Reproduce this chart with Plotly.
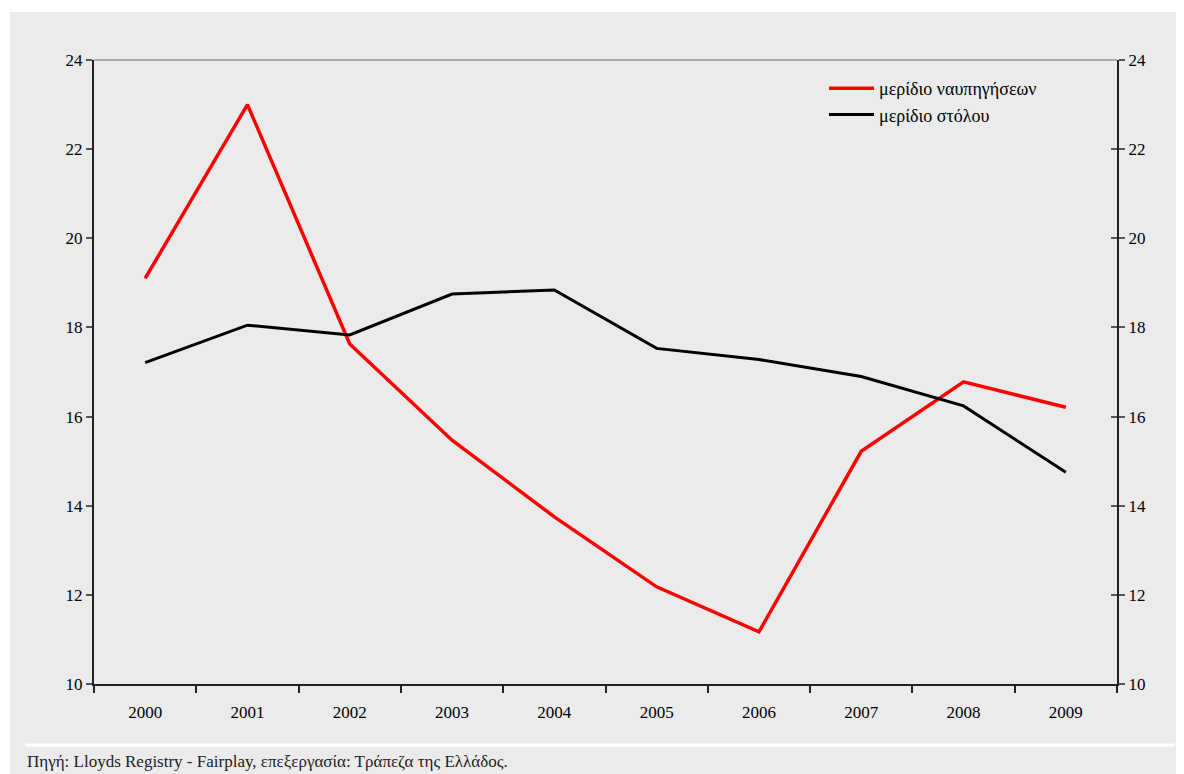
import plotly.graph_objects as go

years = ["2000", "2001", "2002", "2003", "2004", "2005", "2006", "2007", "2008", "2009"]
shipbuilding_share = [19.1, 23.0, 17.63, 15.47, 13.75, 12.18, 11.17, 15.22, 16.78, 16.21]
fleet_share = [17.21, 18.05, 17.83, 18.75, 18.84, 17.53, 17.28, 16.9, 16.24, 14.75]
y_ticks = [10, 12, 14, 16, 18, 20, 22, 24]
name_red = "μερίδιο ναυπηγήσεων"
name_black = "μερίδιο στόλου"
source_text = "Πηγή: Lloyds Registry - Fairplay, επεξεργασία: Τράπεζα της Ελλάδος."

OFF = 8  # page body margin
W, H = 1184, 774 - OFF
L, R, T, B = 94 - OFF, 1117 - OFF, 60 - OFF, 684 - OFF
BG = "#ebebeb"
FONT = "Liberation Serif, DejaVu Serif, serif"

fig = go.Figure()
fig.add_trace(go.Scatter(x=years, y=shipbuilding_share, mode="lines", name=name_red,
                         line=dict(color="#ff0000", width=3.5)))
fig.add_trace(go.Scatter(x=years, y=fleet_share, mode="lines", name=name_black,
                         line=dict(color="#000000", width=3)))
fig.add_trace(go.Scatter(x=years, y=fleet_share, yaxis="y2", mode="lines",
                         line=dict(width=0), showlegend=False, hoverinfo="skip", opacity=0))
fig.add_trace(go.Scatter(x=years, y=fleet_share, yaxis="y3", mode="lines",
                         line=dict(width=0), showlegend=False, hoverinfo="skip", opacity=0))

PW, PH = R - L, B - T

def px_x(v):
    return (v - L) / PW

def px_y(v):
    return (B - v) / PH

fig.update_layout(
    width=W, height=H,
    margin=dict(l=L, r=W - R, t=T, b=H - B, pad=0),
    paper_bgcolor=BG, plot_bgcolor=BG,
    font=dict(family=FONT, color="#000", size=17),
    showlegend=True,
    legend=dict(x=px_x(824 - OFF), y=px_y(70 - OFF), xanchor="left", yanchor="top",
                bgcolor="rgba(0,0,0,0)", font=dict(family=FONT, size=18),
                tracegroupgap=0, itemwidth=45),
    xaxis=dict(type="category", range=[-0.5, 9.5], showgrid=False, zeroline=False,
               showline=True, linecolor="#222", linewidth=2,
               ticks="outside", tickson="boundaries", ticklen=7, tickwidth=1.5, tickcolor="#222",
               tickfont=dict(family=FONT, size=17), ticklabelstandoff=12),
    yaxis=dict(range=[10, 24], tickvals=y_ticks, showgrid=False, zeroline=False,
               showline=True, linecolor="#222", linewidth=2,
               ticks="outside", ticklen=6, tickwidth=1.5, tickcolor="#555",
               tickfont=dict(family=FONT, size=17)),
    yaxis2=dict(range=[10, 24], tickvals=y_ticks, overlaying="y", side="right",
                showgrid=False, zeroline=False, showline=True, linecolor="#222", linewidth=2,
                ticks="outside", ticklen=6, tickwidth=1.5, tickcolor="#555",
                tickfont=dict(family=FONT, size=17)),
    yaxis3=dict(range=[10, 24], tickvals=y_ticks, overlaying="y", side="right",
                showgrid=False, zeroline=False, showline=False, showticklabels=False,
                ticks="inside", ticklen=6, tickwidth=1.5, tickcolor="#555"),
    shapes=[
        dict(type="rect", xref="paper", yref="paper", x0=px_x(0), x1=px_x(W),
             y0=px_y(12 - OFF), y1=px_y(0), fillcolor="#ffffff", line=dict(width=0),
             layer="below"),
        dict(type="rect", xref="paper", yref="paper", x0=px_x(0), x1=px_x(2),
             y0=px_y(H), y1=px_y(0), fillcolor="#ffffff", line=dict(width=0),
             layer="below"),
        dict(type="line", xref="paper", yref="paper", x0=0, x1=1, y0=1, y1=1,
             line=dict(color="#aaaaaa", width=2)),
        dict(type="line", xref="paper", yref="paper", x0=px_x(25 - OFF), x1=px_x(1175 - OFF),
             y0=px_y(745 - OFF), y1=px_y(745 - OFF), line=dict(color="#ffffff", width=3)),
    ],
    annotations=[
        dict(text=source_text, xref="paper", yref="paper", x=px_x(25 - OFF),
             y=px_y(H - 1), xanchor="left", yanchor="bottom", showarrow=False,
             font=dict(family=FONT, size=17, color="#222")),
    ],
)

fig.write_html("out.html")
